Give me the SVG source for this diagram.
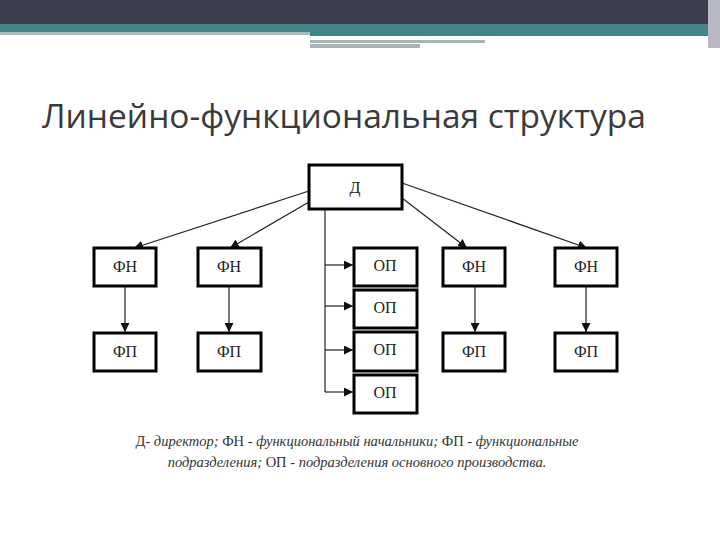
<svg xmlns="http://www.w3.org/2000/svg" width="720" height="540" viewBox="0 0 720 540">
<style>
.b{fill:#fff;stroke:#000;stroke-width:3}
.t{font-family:"Liberation Serif",serif;font-size:16px;text-anchor:middle;fill:#222}
.c{stroke:#222;stroke-width:1.2;fill:none;marker-end:url(#a)}
.n{font-family:"Liberation Serif",serif;font-size:14.5px;fill:#333;text-anchor:middle}
</style>
<defs><marker id="a" viewBox="0 0 10 10" refX="10" refY="5" markerWidth="9" markerHeight="9" orient="auto" markerUnits="userSpaceOnUse"><path d="M0,0L10,5L0,10z" fill="#111"/></marker></defs>
<rect width="720" height="540" fill="#fff"/>
<rect width="720" height="24" fill="#3e3f50"/>
<rect y="24" width="720" height="8" fill="#43858a"/>
<rect y="32" width="310" height="3" fill="#a8bcbe"/>
<rect x="310" y="32" width="400" height="4" fill="#43858a"/>
<rect x="310" y="36" width="175" height="2" fill="#fff"/>
<rect x="310" y="40" width="175" height="3" fill="#a7b3b2"/>
<rect x="310" y="44" width="110" height="4" fill="#a7b3b2"/>
<rect x="708" y="0" width="12" height="48" fill="#b8b8c4"/>
<text x="42" y="128" font-family="'Open Sans','Liberation Sans',sans-serif" font-size="33.5" fill="#3a3a3a">Линейно-функциональная структура</text>
<g id="connectors">
<line class="c" x1="309" y1="191" x2="134" y2="248"/>
<line class="c" x1="309" y1="202" x2="230" y2="248"/>
<line class="c" x1="402" y1="183" x2="587" y2="248"/>
<line class="c" x1="402" y1="198" x2="467" y2="248"/>
<line class="c" x1="125" y1="287" x2="125" y2="332"/>
<line class="c" x1="229" y1="287" x2="229" y2="332"/>
<line class="c" x1="475" y1="287" x2="475" y2="332"/>
<line class="c" x1="586" y1="287" x2="586" y2="332"/>
<path d="M325 210V392" stroke="#222" stroke-width="1.2" fill="none"/>
<line class="c" x1="325" y1="265" x2="353" y2="265"/>
<line class="c" x1="325" y1="306" x2="353" y2="306"/>
<line class="c" x1="325" y1="350" x2="353" y2="350"/>
<line class="c" x1="325" y1="392" x2="353" y2="392"/>
</g>
<g id="D"><rect class="b" x="309" y="165" width="93" height="44"/><text class="t" x="355" y="193">Д</text></g>
<g id="FN1"><rect class="b" x="94" y="248" width="62" height="38"/><text class="t" x="125" y="272">ФН</text></g>
<g id="FN2"><rect class="b" x="198" y="248" width="63" height="38"/><text class="t" x="229" y="272">ФН</text></g>
<g id="FN3"><rect class="b" x="443" y="248" width="62" height="38"/><text class="t" x="474" y="272">ФН</text></g>
<g id="FN4"><rect class="b" x="555" y="248" width="62" height="38"/><text class="t" x="586" y="272">ФН</text></g>
<g id="FP1"><rect class="b" x="94" y="333" width="62" height="38"/><text class="t" x="125" y="357">ФП</text></g>
<g id="FP2"><rect class="b" x="198" y="333" width="63" height="38"/><text class="t" x="229" y="357">ФП</text></g>
<g id="FP3"><rect class="b" x="443" y="333" width="62" height="38"/><text class="t" x="474" y="357">ФП</text></g>
<g id="FP4"><rect class="b" x="555" y="333" width="62" height="38"/><text class="t" x="586" y="357">ФП</text></g>
<g id="OP1"><rect class="b" x="354" y="248" width="63" height="38"/><text class="t" x="385" y="271">ОП</text></g>
<g id="OP2"><rect class="b" x="354" y="290" width="63" height="38"/><text class="t" x="385" y="313">ОП</text></g>
<g id="OP3"><rect class="b" x="354" y="332" width="63" height="39"/><text class="t" x="385" y="355">ОП</text></g>
<g id="OP4"><rect class="b" x="354" y="375" width="63" height="38"/><text class="t" x="385" y="398">ОП</text></g>
<text class="n" x="357" y="446">Д- <tspan font-style="italic">директор;</tspan> ФН - <tspan font-style="italic">функциональный начальники;</tspan> ФП - <tspan font-style="italic">функциональные</tspan></text>
<text class="n" x="357" y="467"><tspan font-style="italic">подразделения;</tspan> ОП - <tspan font-style="italic">подразделения основного производства.</tspan></text>
</svg>
